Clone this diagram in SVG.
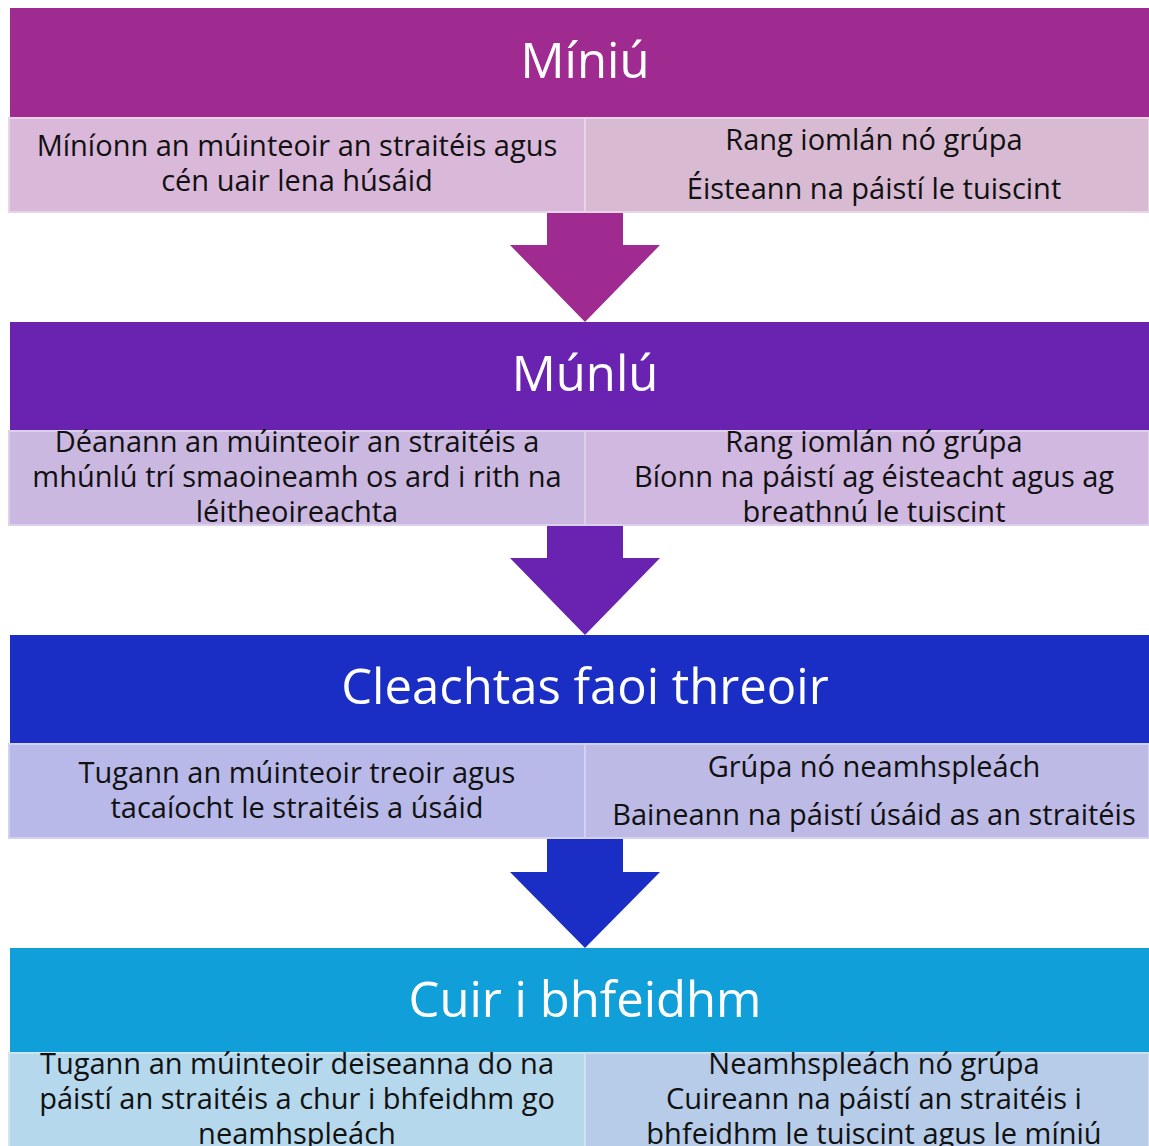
<svg xmlns="http://www.w3.org/2000/svg" width="1149" height="1146" viewBox="0 0 1149 1146">
<style>
.t{font-family:"Open Sans","Liberation Sans",sans-serif;fill:#fff;font-size:49px;text-anchor:middle}
.c{font-family:"Open Sans","Liberation Sans",sans-serif;fill:#111;font-size:29px;text-anchor:middle}
.cell{stroke-width:2}
</style>
<rect width="1149" height="1146" fill="#fff"/>
<g id="connectors">
<polygon points="547,213 623,213 623,245 660,245 585,322 510,245 547,245" fill="#A02B90"/>
<polygon points="547,526 623,526 623,558 660,558 585,635 510,558 547,558" fill="#6A22B0"/>
<polygon points="547,839 623,839 623,872 660,872 585,948 510,872 547,872" fill="#1A2DC4"/>
</g>
<g id="miniu">
<rect x="10" y="8" width="1139" height="109" fill="#A02B90"/>
<text class="t" x="585" y="78">Míniú</text>
<rect class="cell" x="9" y="118" width="576" height="94" fill="#DAB8DA" stroke="#E8D4E8"/>
<rect class="cell" x="585" y="118" width="564" height="94" fill="#D8BBD3" stroke="#E8D4E6"/>
<text class="c" x="297" y="156">Míníonn an múinteoir an straitéis agus</text>
<text class="c" x="297" y="191">cén uair lena húsáid</text>
<text class="c" x="874" y="150">Rang iomlán nó grúpa</text>
<text class="c" x="874" y="199">Éisteann na páistí le tuiscint</text>
</g>
<g id="munlu">
<rect x="10" y="322" width="1139" height="108" fill="#6A22B0"/>
<text class="t" x="585" y="391">Múnlú</text>
<rect class="cell" x="9" y="431" width="576" height="94" fill="#CBB8E0" stroke="#DCD0EC"/>
<rect class="cell" x="585" y="431" width="564" height="94" fill="#D0B8E0" stroke="#DCD0EC"/>
<text class="c" x="297" y="452">Déanann an múinteoir an straitéis a</text>
<text class="c" x="297" y="487">mhúnlú trí smaoineamh os ard i rith na</text>
<text class="c" x="297" y="522">léitheoireachta</text>
<text class="c" x="874" y="452">Rang iomlán nó grúpa</text>
<text class="c" x="874" y="487">Bíonn na páistí ag éisteacht agus ag</text>
<text class="c" x="874" y="522">breathnú le tuiscint</text>
</g>
<g id="cleachtas">
<rect x="10" y="635" width="1139" height="108" fill="#1A2DC4"/>
<text class="t" x="585" y="704">Cleachtas faoi threoir</text>
<rect class="cell" x="9" y="744" width="576" height="94" fill="#B8B9E8" stroke="#D2D2F0"/>
<rect class="cell" x="585" y="744" width="564" height="94" fill="#BDBAE6" stroke="#D2D2F0"/>
<text class="c" x="297" y="783">Tugann an múinteoir treoir agus</text>
<text class="c" x="297" y="818">tacaíocht le straitéis a úsáid</text>
<text class="c" x="874" y="777">Grúpa nó neamhspleách</text>
<text class="c" x="874" y="825">Baineann na páistí úsáid as an straitéis</text>
</g>
<g id="cuir">
<rect x="10" y="948" width="1139" height="104" fill="#109FD8"/>
<text class="t" x="585" y="1017">Cuir i bhfeidhm</text>
<rect class="cell" x="9" y="1053" width="576" height="100" fill="#B6D8EC" stroke="#CFE6F2"/>
<rect class="cell" x="585" y="1053" width="564" height="100" fill="#B7CCE8" stroke="#CFE0F0"/>
<text class="c" x="297" y="1074">Tugann an múinteoir deiseanna do na</text>
<text class="c" x="297" y="1109">páistí an straitéis a chur i bhfeidhm go</text>
<text class="c" x="297" y="1144">neamhspleách</text>
<text class="c" x="874" y="1074">Neamhspleách nó grúpa</text>
<text class="c" x="874" y="1109">Cuireann na páistí an straitéis i</text>
<text class="c" x="874" y="1144">bhfeidhm le tuiscint agus le míniú</text>
</g>
</svg>
